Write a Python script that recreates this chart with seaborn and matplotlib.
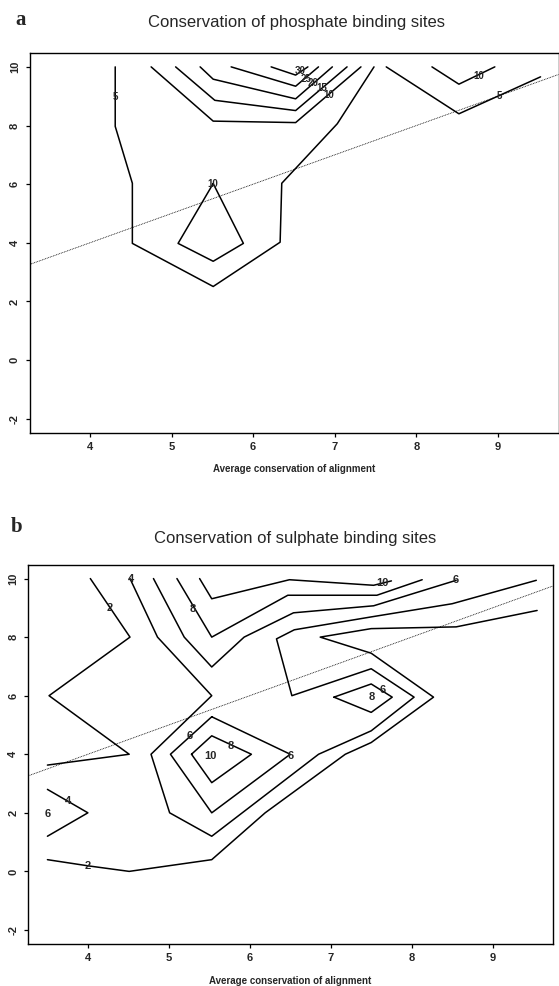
import pandas as pd
import matplotlib
matplotlib.use('Agg')
import matplotlib.pyplot as plt
import seaborn as sns

# contour pieces (x = avg conservation, y = binding site conservation)
# panel a: phosphate
a_5_main_x = [4.31, 4.31, 4.52, 4.52, 5.51, 6.33, 6.35, 7.03, 7.48]
a_5_main_y = [10.0, 7.97, 6.03, 3.98, 2.51, 4.02, 6.03, 8.06, 10.0]
a_5_right_x = [7.63, 8.52, 9.52]
a_5_right_y = [10.0, 8.40, 9.66]
a_10_top_x = [4.75, 5.51, 6.52, 7.32]
a_10_top_y = [10.0, 8.15, 8.10, 10.0]
a_10_loop_x = [5.51, 5.08, 5.51, 5.88, 5.51]
a_10_loop_y = [6.02, 3.98, 3.37, 3.98, 6.02]
a_10_right_x = [8.19, 8.52, 8.96]
a_10_right_y = [10.0, 9.41, 10.0]
a_15_x = [5.05, 5.53, 6.52, 7.15]
a_15_y = [10.0, 8.86, 8.51, 10.0]
a_20_x = [5.35, 5.51, 6.52, 6.97]
a_20_y = [10.0, 9.58, 8.91, 10.0]
a_25_x = [5.73, 6.52, 6.80]
a_25_y = [10.0, 9.34, 10.0]
a_30_x = [6.22, 6.52, 6.67]
a_30_y = [10.0, 9.72, 10.0]

a_label_text = ['5', '10', '30', '25', '20', '15', '10', '10', '5']
a_label_x = [4.31, 5.51, 6.58, 6.65, 6.73, 6.84, 6.93, 8.76, 9.02]
a_label_y = [8.97, 6.02, 9.86, 9.60, 9.45, 9.29, 9.03, 9.68, 8.99]

# panel b: sulphate
b_2_upper_x = [4.03, 4.52, 3.52, 4.51, 3.50]
b_2_upper_y = [10.0, 8.00, 6.00, 4.00, 3.63]
b_2_main_x = [3.50, 4.00, 4.51, 5.53, 6.19, 7.18, 7.50, 8.27, 7.50, 6.87, 7.50, 8.55, 9.55]
b_2_main_y = [0.40, 0.19, 0.00, 0.40, 2.00, 4.00, 4.40, 5.95, 7.45, 8.00, 8.29, 8.35, 8.91]
b_4_main_x = [4.52, 4.86, 5.53, 4.78, 5.01, 5.53, 6.85, 7.50, 8.03, 7.50, 6.52, 6.33, 6.55, 7.50, 8.50, 9.54]
b_4_main_y = [10.0, 8.00, 6.00, 4.00, 2.00, 1.20, 4.00, 4.80, 5.95, 6.92, 6.00, 7.94, 8.25, 8.69, 9.14, 9.94]
b_4_wedge_x = [3.50, 4.00, 3.50]
b_4_wedge_y = [2.80, 2.00, 1.20]
b_6_main_x = [4.81, 5.19, 5.53, 5.93, 6.54, 7.53, 8.55]
b_6_main_y = [10.0, 8.00, 6.98, 8.00, 8.83, 9.07, 9.94]
b_6_loop_x = [5.53, 5.02, 5.53, 6.50, 5.53]
b_6_loop_y = [5.28, 4.00, 2.00, 4.00, 5.28]
b_6_right_x = [7.04, 7.50, 7.76, 7.50, 7.04]
b_6_right_y = [5.95, 6.40, 5.95, 5.43, 5.95]
b_8_main_x = [5.10, 5.53, 6.47, 7.57, 8.13]
b_8_main_y = [10.0, 8.00, 9.43, 9.43, 9.96]
b_8_loop_x = [5.28, 5.53, 6.02, 5.53, 5.28]
b_8_loop_y = [4.00, 4.63, 4.00, 3.03, 4.00]
b_10_main_x = [5.38, 5.53, 6.49, 7.53, 7.75]
b_10_main_y = [10.0, 9.31, 9.96, 9.77, 9.92]

b_label_text = ['2', '4', '8', '10', '6', '2', '4', '6', '6', '8', '10', '6', '8', '6']
b_label_x = [4.27, 4.53, 5.30, 7.64, 8.54, 4.00, 3.75, 3.50, 5.26, 5.76, 5.51, 6.51, 7.51, 7.64]
b_label_y = [8.98, 9.97, 8.97, 9.85, 9.94, 0.19, 2.40, 1.95, 4.63, 4.29, 3.95, 3.95, 5.95, 6.20]

ticks_x = [4, 5, 6, 7, 8, 9]
ticks_y = [-2, 0, 2, 4, 6, 8, 10]

pieces_a = {
    '5a': (a_5_main_x, a_5_main_y), '5b': (a_5_right_x, a_5_right_y),
    '10a': (a_10_top_x, a_10_top_y), '10b': (a_10_loop_x, a_10_loop_y),
    '10c': (a_10_right_x, a_10_right_y), '15': (a_15_x, a_15_y),
    '20': (a_20_x, a_20_y), '25': (a_25_x, a_25_y), '30': (a_30_x, a_30_y),
}
pieces_b = {
    '2a': (b_2_upper_x, b_2_upper_y), '2b': (b_2_main_x, b_2_main_y),
    '4a': (b_4_main_x, b_4_main_y), '4b': (b_4_wedge_x, b_4_wedge_y),
    '6a': (b_6_main_x, b_6_main_y), '6b': (b_6_loop_x, b_6_loop_y),
    '6c': (b_6_right_x, b_6_right_y), '8a': (b_8_main_x, b_8_main_y),
    '8b': (b_8_loop_x, b_8_loop_y), '10a': (b_10_main_x, b_10_main_y),
}

sns.set_style('ticks')
plt.rcParams['font.family'] = ['Liberation Sans', 'DejaVu Sans']


def draw_panel(ax, pieces, lab_txt, lab_x, lab_y, lab_size):
    df = pd.concat([pd.DataFrame({'x': xs, 'y': ys, 'piece': name})
                    for name, (xs, ys) in pieces.items()], ignore_index=True)
    sns.lineplot(data=df, x='x', y='y', units='piece', estimator=None, sort=False,
                 color='black', linewidth=1.1, ax=ax, legend=False)
    # line of equal conservation
    ax.axline((0, 0), slope=1, color='black', linewidth=0.6, linestyle=(0, (1, 1)))
    for t, x, y in zip(lab_txt, lab_x, lab_y):
        ax.text(x, y, t, ha='center', va='center', fontsize=lab_size, fontweight='bold')
    ax.set_xlim(3.26, 9.74)
    ax.set_ylim(-2.48, 10.48)
    ax.set_xticks(ticks_x)
    ax.set_yticks(ticks_y)
    ax.set_xticklabels([str(v) for v in ticks_x], fontweight='bold')
    ax.set_yticklabels([str(v) for v in ticks_y], fontweight='bold', rotation=90, va='center')
    ax.tick_params(axis='both', direction='out', length=3, width=0.9, labelsize=8, color='black')
    ax.tick_params(axis='x', pad=3.5)
    ax.tick_params(axis='y', pad=4)
    for s in ax.spines.values():
        s.set_visible(True)
        s.set_linewidth(1.0)
        s.set_color('black')
    ax.set_xlabel('Average conservation of alignment', fontsize=7, fontweight='bold', labelpad=9)
    ax.set_ylabel('')


W, H = 559, 986
fig = plt.figure(figsize=(W / 100, H / 100), dpi=100)
fig.patch.set_facecolor('white')

ax_a = fig.add_axes([29.5 / W, 1 - 432.8 / H, 529 / W, 380 / H])
draw_panel(ax_a, pieces_a, a_label_text, a_label_x, a_label_y, 7)

ax_b = fig.add_axes([28 / W, 1 - 944 / H, 524.5 / W, 379.5 / H])
draw_panel(ax_b, pieces_b, b_label_text, b_label_x, b_label_y, 8)

fig.text(296 / W, 1 - 23 / H, 'Conservation of phosphate binding sites', ha='center', va='center', fontsize=12)
fig.text(295 / W, 1 - 538 / H, 'Conservation of sulphate binding sites', ha='center', va='center', fontsize=12)
fig.text(21 / W, 1 - 20 / H, 'a', ha='center', va='center', fontsize=15, fontweight='bold',
         family=['Liberation Serif', 'DejaVu Serif'])
fig.text(17 / W, 1 - 527 / H, 'b', ha='center', va='center', fontsize=15, fontweight='bold',
         family=['Liberation Serif', 'DejaVu Serif'])

fig.savefig('out.png', dpi=100, facecolor='white')
